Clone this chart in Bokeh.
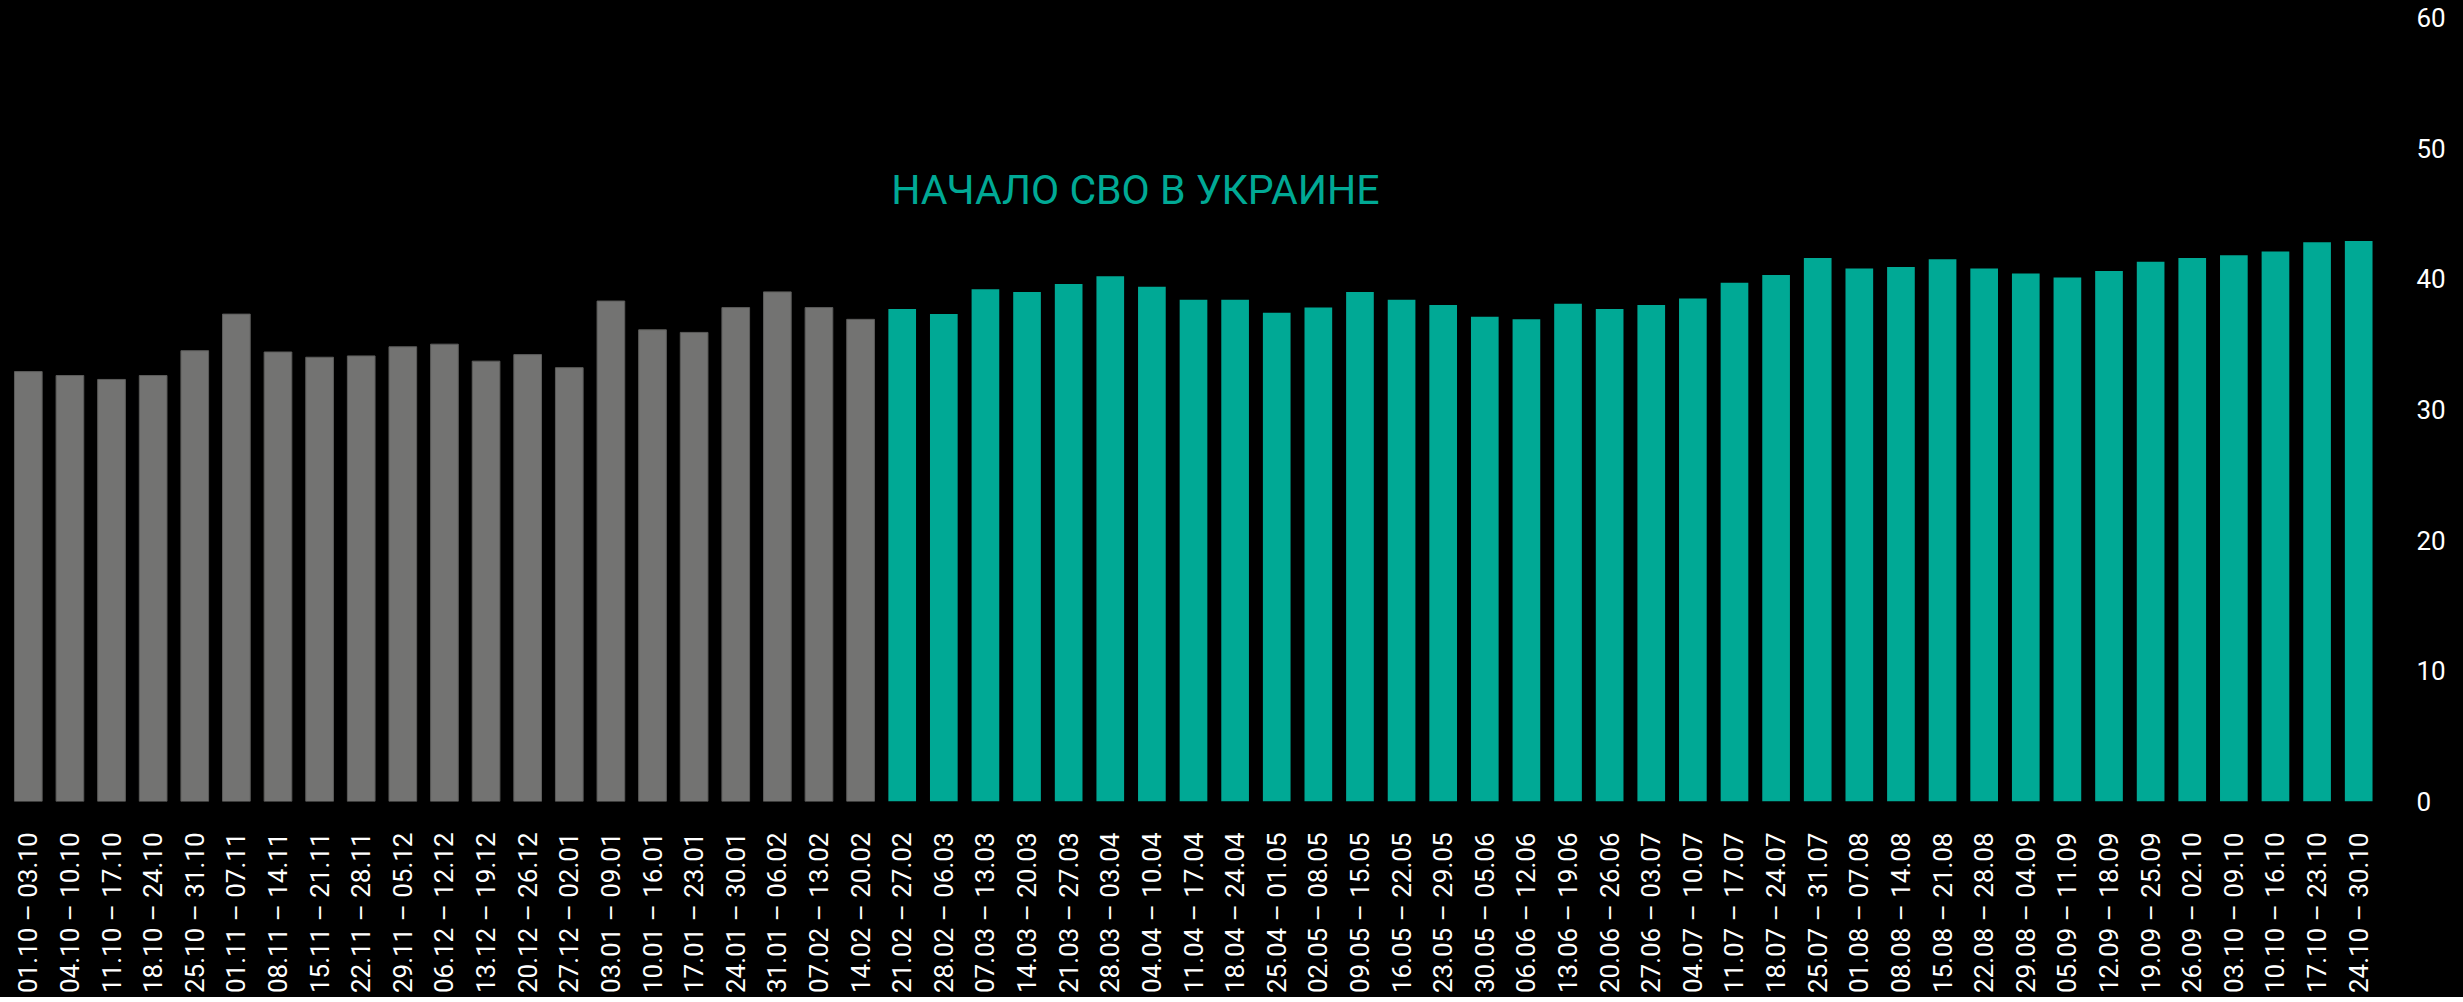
import math
from bokeh.plotting import figure
from bokeh.models import ColumnDataSource, FactorRange, Range1d
from bokeh.embed import file_html
from bokeh.resources import INLINE
from bokeh.core.properties import value

# ---- data ----
weeks_before = [
    "01.10 – 03.10", "04.10 – 10.10", "11.10 – 17.10", "18.10 – 24.10", "25.10 – 31.10",
    "01.11 – 07.11", "08.11 – 14.11", "15.11 – 21.11", "22.11 – 28.11", "29.11 – 05.12",
    "06.12 – 12.12", "13.12 – 19.12", "20.12 – 26.12", "27.12 – 02.01", "03.01 – 09.01",
    "10.01 – 16.01", "17.01 – 23.01", "24.01 – 30.01", "31.01 – 06.02", "07.02 – 13.02",
    "14.02 – 20.02",
]
values_before = [
    32.9, 32.6, 32.3, 32.6, 34.5, 37.3, 34.4, 34.0, 34.1, 34.8,
    35.0, 33.7, 34.2, 33.2, 38.3, 36.1, 35.9, 37.8, 39.0, 37.8,
    36.9,
]
weeks_after = [
    "21.02 – 27.02", "28.02 – 06.03", "07.03 – 13.03", "14.03 – 20.03", "21.03 – 27.03",
    "28.03 – 03.04", "04.04 – 10.04", "11.04 – 17.04", "18.04 – 24.04", "25.04 – 01.05",
    "02.05 – 08.05", "09.05 – 15.05", "16.05 – 22.05", "23.05 – 29.05", "30.05 – 05.06",
    "06.06 – 12.06", "13.06 – 19.06", "20.06 – 26.06", "27.06 – 03.07", "04.07 – 10.07",
    "11.07 – 17.07", "18.07 – 24.07", "25.07 – 31.07", "01.08 – 07.08", "08.08 – 14.08",
    "15.08 – 21.08", "22.08 – 28.08", "29.08 – 04.09", "05.09 – 11.09", "12.09 – 18.09",
    "19.09 – 25.09", "26.09 – 02.10", "03.10 – 09.10", "10.10 – 16.10", "17.10 – 23.10",
    "24.10 – 30.10",
]
values_after = [
    37.7, 37.3, 39.2, 39.0, 39.6, 40.2, 39.4, 38.4, 38.4, 37.4,
    37.8, 39.0, 38.4, 38.0, 37.1, 36.9, 38.1, 37.7, 38.0, 38.5,
    39.7, 40.3, 41.6, 40.8, 40.9, 41.5, 40.8, 40.4, 40.1, 40.6,
    41.3, 41.6, 41.8, 42.1, 42.8, 42.9,
]
y_ticks = [0, 10, 20, 30, 40, 50, 60]
annotation_text = "НАЧАЛО СВО В УКРАИНЕ"

GRAY = "#737372"
TEAL = "#00A995"

categories = weeks_before + weeks_after

src_before = ColumnDataSource(dict(x=weeks_before, top=values_before))
src_after = ColumnDataSource(dict(x=weeks_after, top=values_after))

p = figure(
    x_range=FactorRange(*categories),
    y_range=Range1d(0, 60),
    frame_width=2372, frame_height=784,
    min_border_left=7, min_border_top=17, min_border_right=84, min_border_bottom=196,
    output_backend="svg", toolbar_location=None,
    y_axis_location="right",
    background_fill_color=None, border_fill_color="black",
    outline_line_color=None,
)
p.styles = {"background-color": "black"}

p.vbar(x="x", top="top", width=0.665, source=src_before,
       fill_color=GRAY, line_color="#5c5c5b", line_width=1)
p.vbar(x="x", top="top", width=0.665, source=src_after,
       fill_color=TEAL, line_color=None)

p.text(x=[weeks_after[0]], y=[46.8], text=[annotation_text],
       text_font=value("Roboto"), text_font_size="41px", text_color=TEAL,
       text_align="left", text_baseline="alphabetic", x_offset=-11)

p.xgrid.grid_line_color = None
p.ygrid.grid_line_color = None

p.yaxis.ticker = y_ticks
p.yaxis.axis_line_color = None
p.yaxis.major_tick_line_color = None
p.yaxis.minor_tick_line_color = None
p.yaxis.major_label_text_color = "white"
p.yaxis.major_label_text_font = "Roboto"
p.yaxis.major_label_text_font_size = "26px"
p.yaxis.major_label_standoff = 31

p.xaxis.axis_line_color = None
p.xaxis.major_tick_line_color = None
p.xaxis.minor_tick_line_color = None
p.xaxis.major_label_orientation = math.pi / 2
p.xaxis.major_label_text_color = "white"
p.xaxis.major_label_text_font = "Roboto"
p.xaxis.major_label_text_font_size = "26px"
p.xaxis.major_label_standoff = 25

open("out.html", "w").write(file_html(p, INLINE))
